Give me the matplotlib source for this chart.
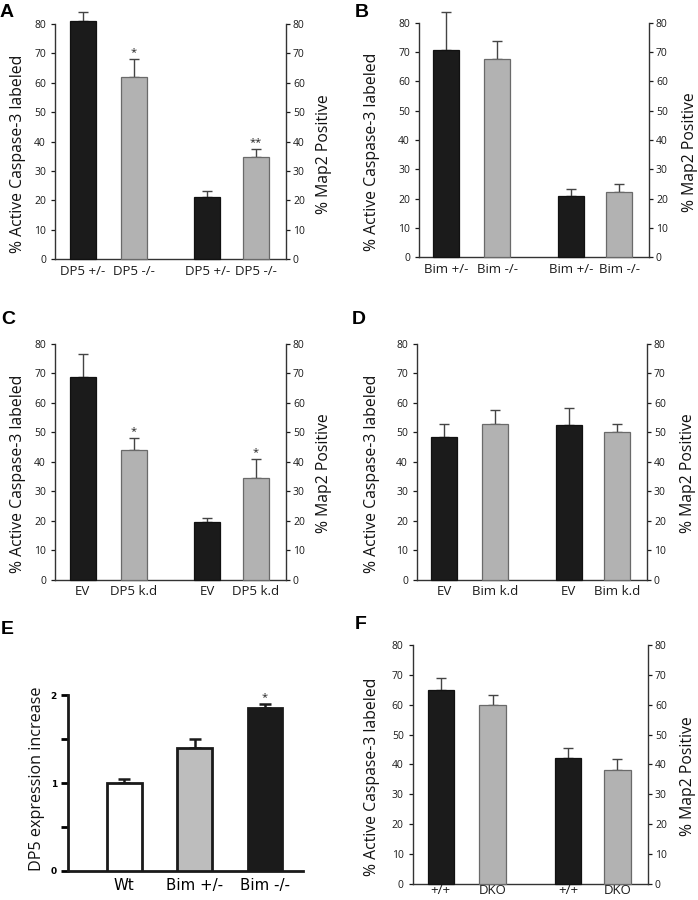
import matplotlib
matplotlib.use("Agg")
import matplotlib.pyplot as plt
import numpy as np

plt.rcParams['font.family'] = ['Open Sans', 'DejaVu Sans']

W, H = 698, 900

# ---------------- data ----------------
A_labels = ["DP5 +/-", "DP5 -/-", "DP5 +/-", "DP5 -/-"]
A_vals = [81.1, 61.8, 21.0, 34.7]
A_err = [3.0, 6.4, 2.1, 2.7]
A_stars = ["", "*", "", "**"]

B_labels = ["Bim +/-", "Bim -/-", "Bim +/-", "Bim -/-"]
B_vals = [70.6, 67.5, 20.9, 22.2]
B_err = [12.9, 6.1, 2.4, 2.8]
B_stars = ["", "", "", ""]

C_labels = ["EV", "DP5 k.d", "EV", "DP5 k.d"]
C_vals = [68.9, 43.9, 19.5, 34.6]
C_err = [7.7, 4.3, 1.4, 6.5]
C_stars = ["", "*", "", "*"]

D_labels = ["EV", "Bim k.d", "EV", "Bim k.d"]
D_vals = [48.5, 53.0, 52.4, 50.0]
D_err = [4.2, 4.6, 6.0, 2.7]
D_stars = ["", "", "", ""]

F_labels = ["+/+", "DKO", "+/+", "DKO"]
F_vals = [64.9, 59.9, 42.0, 38.2]
F_err = [4.2, 3.5, 3.5, 3.7]
F_stars = ["", "", "", ""]

E_labels = ["Wt", "Bim +/-", "Bim -/-"]
E_vals = [1.0, 1.40, 1.85]
E_err = [0.05, 0.10, 0.05]
E_stars = ["", "", "*"]

y_ticks = [0, 10, 20, 30, 40, 50, 60, 70, 80]
left_label = "% Active Caspase-3 labeled"
right_label = "% Map2 Positive"
E_ylabel = "DP5 expression increase"

BLACK = "#1b1b1b"
GRAY = "#b2b2b2"
bar_colors = [BLACK, GRAY, BLACK, GRAY]
edge_colors = ["#111111", "#6a6a6a", "#111111", "#6a6a6a"]

fig = plt.figure(figsize=(W / 100, H / 100), dpi=100)


def px_axes(l, t, r, b):
    return fig.add_axes([l / W, 1 - b / H, (r - l) / W, (b - t) / H])


def fig_label(txt, x, y, size):
    fig.text(x / W, 1 - y / H, txt, rotation=90, ha='center', va='center',
             fontsize=size, color="#111111")


def caspase_panel(l, t, r, b, labels, vals, errs, stars, lx, rx, ly, xpad=4):
    ax = px_axes(l, t, r, b)
    pos = np.array([0.0, 1.0, 2.45, 3.40])
    ax.bar(pos, vals, width=0.51, color=bar_colors, edgecolor=edge_colors,
           linewidth=0.9, zorder=3, clip_on=False)
    for p, v, e in zip(pos, vals, errs):
        ax.errorbar([p], [v], yerr=[[0], [e]], fmt='none', ecolor="#444444",
                    elinewidth=1.0, capsize=3.3, capthick=1.0, zorder=2,
                    clip_on=False)
    for p, v, e, s in zip(pos, vals, errs, stars):
        if s:
            ax.annotate(s, (p, v + e), xytext=(0, 0.5), textcoords='offset points',
                        ha='center', va='bottom', fontsize=8, color="#222222")
    ax.set_xlim(-0.54, 3.99)
    ax.set_ylim(0, 80)
    ax.set_yticks(y_ticks)
    ax.set_xticks(pos)
    ax.set_xticklabels(labels, fontsize=9.5)
    ax.tick_params(axis='x', length=0, pad=xpad, colors="#1a1a1a")
    ax.tick_params(axis='y', length=3, width=0.9, labelsize=7.5, pad=3.5,
                   colors="#1a1a1a")
    for sp in ['top', 'right']:
        ax.spines[sp].set_visible(False)
    for sp in ['left', 'bottom']:
        ax.spines[sp].set_linewidth(1.0)
        ax.spines[sp].set_color("#333333")
    ax2 = ax.twinx()
    ax2.set_ylim(0, 80)
    ax2.set_yticks(y_ticks)
    ax2.tick_params(axis='y', length=3, width=0.9, labelsize=7.5, pad=2,
                    colors="#1a1a1a")
    for sp in ['top', 'left', 'bottom']:
        ax2.spines[sp].set_visible(False)
    ax2.spines['right'].set_linewidth(1.0)
    ax2.spines['right'].set_color("#333333")
    fig_label(left_label, lx, ly, 11.3)
    fig_label(right_label, rx, ly, 11.3)
    return ax


caspase_panel(55, 24, 286, 259, A_labels, A_vals, A_err, A_stars, 18.5, 323.5, 154)
caspase_panel(419, 22.7, 649, 257.3, B_labels, B_vals, B_err, B_stars, 372.5, 689.5, 152)
caspase_panel(55, 344, 286, 579.7, C_labels, C_vals, C_err, C_stars, 18.5, 324.5, 473.5)
caspase_panel(417, 344, 647, 579.7, D_labels, D_vals, D_err, D_stars, 372.5, 688.5, 473.5)
caspase_panel(412.7, 645, 648, 883.7, F_labels, F_vals, F_err, F_stars, 372.5, 687.5, 776.5,
              xpad=0.5)

# ---------------- panel E ----------------
axE = px_axes(68, 695.3, 303, 871)
posE = np.arange(3)
axE.bar(posE, E_vals, width=0.49, color=["white", "#bdbdbd", BLACK],
        edgecolor="#1a1a1a", linewidth=2.0, zorder=3)
axE.errorbar(posE, E_vals, yerr=[np.zeros(3), E_err], fmt='none', ecolor="#1a1a1a",
             elinewidth=1.8, capsize=4, capthick=1.8, zorder=2, clip_on=False)
for p, v, e, s in zip(posE, E_vals, E_err, E_stars):
    if s:
        axE.annotate(s, (p, v + e), xytext=(0, 0.5), textcoords='offset points',
                     ha='center', va='bottom', fontsize=8, color="#222222")
axE.set_xlim(-0.8, 2.54)
axE.set_ylim(0, 2)
axE.set_yticks([0, 1, 2])
axE.set_yticklabels(["0", "1", "2"], fontweight='bold', fontsize=6.5,
                    family=['DejaVu Sans'])
axE.set_yticks([0.5, 1.5], minor=True)
axE.tick_params(axis='y', which='both', length=5, width=2.0, pad=3)
axE.set_xticks(posE)
axE.set_xticklabels(E_labels, fontsize=10.8, family=['DejaVu Sans'])
axE.tick_params(axis='x', length=0, pad=5)
for sp in ['top', 'right']:
    axE.spines[sp].set_visible(False)
for sp in ['left', 'bottom']:
    axE.spines[sp].set_linewidth(2.0)
    axE.spines[sp].set_color("#1a1a1a")
fig_label(E_ylabel, 37, 778.5, 11.6)

# ---------------- panel letters ----------------
letter_kw = dict(fontsize=14, fontweight='bold', family=['Liberation Sans'],
                 va='top', ha='left')
for txt, x, y in [("A", 0, 4), ("B", 355, 4), ("C", 1, 311), ("D", 352, 311),
                  ("E", 1, 621), ("F", 355, 616)]:
    fig.text(x / W, 1 - y / H, txt, **letter_kw)

fig.savefig("out.png", dpi=100)
